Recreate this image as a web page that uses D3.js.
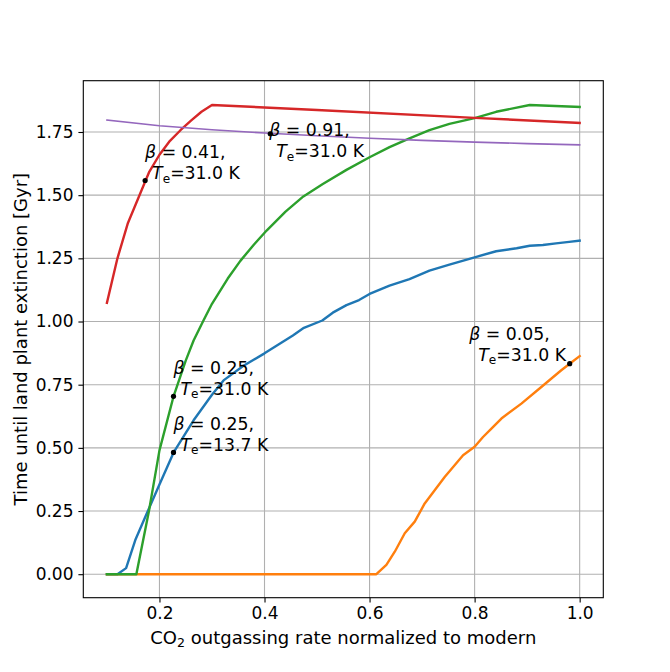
<!DOCTYPE html>
<html>
<head>
<meta charset="utf-8">
<script src="https://cdn.jsdelivr.net/npm/d3@7/dist/d3.min.js"></script>
<style>
  html, body { margin: 0; padding: 0; background: #fff; }
  svg { display: block; font-family: "DejaVu Sans", sans-serif; }
</style>
</head>
<body>
<svg id="chart" width="670" height="672"></svg>
<script>
// ---- data ----
const blueX = [0.10, 0.12, 0.1365, 0.154, 0.176, 0.20, 0.227, 0.265, 0.30, 0.322, 0.36, 0.40, 0.454, 0.475, 0.51, 0.53, 0.556, 0.58, 0.60, 0.638, 0.676, 0.714, 0.752, 0.80, 0.841, 0.88, 0.905, 0.93, 0.955, 0.98, 1.0];
const blueY = [0.0, 0.0, 0.024, 0.135, 0.241, 0.355, 0.482, 0.609, 0.71, 0.767, 0.825, 0.874, 0.945, 0.975, 1.004, 1.035, 1.065, 1.085, 1.109, 1.142, 1.168, 1.201, 1.225, 1.254, 1.278, 1.29, 1.30, 1.303, 1.309, 1.315, 1.32];

const orangeX = [0.10, 0.613, 0.632, 0.648, 0.667, 0.686, 0.705, 0.743, 0.778, 0.80, 0.816, 0.832, 0.851, 0.889, 0.927, 0.965, 0.981, 1.0];
const orangeY = [0.0, 0.0, 0.037, 0.089, 0.162, 0.208, 0.28, 0.385, 0.471, 0.504, 0.543, 0.576, 0.616, 0.675, 0.741, 0.807, 0.833, 0.863];

const greenX = [0.10, 0.156, 0.18, 0.20, 0.227, 0.25, 0.265, 0.284, 0.30, 0.33, 0.354, 0.38, 0.404, 0.44, 0.474, 0.511, 0.556, 0.60, 0.638, 0.676, 0.714, 0.752, 0.80, 0.841, 0.905, 1.0];
const greenY = [0.0, 0.0, 0.25, 0.49, 0.705, 0.845, 0.925, 1.005, 1.07, 1.17, 1.24, 1.305, 1.36, 1.435, 1.495, 1.544, 1.60, 1.65, 1.69, 1.725, 1.757, 1.782, 1.805, 1.83, 1.857, 1.849];

const redX = [0.10, 0.12, 0.14, 0.16, 0.18, 0.20, 0.22, 0.24, 0.26, 0.28, 0.30, 0.50, 0.80, 1.0];
const redY = [1.074, 1.25, 1.39, 1.49, 1.59, 1.66, 1.715, 1.757, 1.795, 1.83, 1.857, 1.837, 1.806, 1.786];

const purpleX = [0.10, 0.20, 0.30, 0.40, 0.50, 0.60, 0.70, 0.80, 0.90, 1.0];
const purpleY = [1.797, 1.775, 1.759, 1.746, 1.735, 1.725, 1.717, 1.710, 1.704, 1.699];

const seriesColors = ["#1f77b4", "#ff7f0e", "#2ca02c", "#d62728", "#9467bd"];
const seriesWidths = [2.4, 2.4, 2.4, 2.4, 1.6];

// annotated points
const annX = [0.1727, 0.411, 0.2267, 0.2267, 0.981];
const annY = [1.558, 1.743, 0.704, 0.482, 0.833];
const annBeta = ["0.41", "0.91", "0.25", "0.25", "0.05"];
const annTe = ["31.0", "31.0", "31.0", "13.7", "31.0"];
const annPlace = ["above", "below", "above", "above", "left"];

const xTicks = [0.2, 0.4, 0.6, 0.8, 1.0];
const yTicks = [0.00, 0.25, 0.50, 0.75, 1.00, 1.25, 1.50, 1.75];

// ---- layout ----
const L = 83.3, T = 80.7, R = 603.3, B = 597.7;
const FS_TICK = 17, FS_LABEL = 18, FS_ANN = 17.3;
const LINE_GAP = 21;

const svg = d3.select("#chart");
const x = d3.scaleLinear().domain([0.055, 1.045]).range([L, R]);
const y = d3.scaleLinear().domain([-0.093, 1.953]).range([B, T]);

// grid
const grid = svg.append("g");
grid.selectAll("line.gx").data(xTicks).enter().append("line")
  .attr("x1", d => x(d)).attr("x2", d => x(d)).attr("y1", T).attr("y2", B)
  .attr("stroke", "#b0b0b0").attr("stroke-width", 1.1);
grid.selectAll("line.gy").data(yTicks).enter().append("line")
  .attr("y1", d => y(d)).attr("y2", d => y(d)).attr("x1", L).attr("x2", R)
  .attr("stroke", "#b0b0b0").attr("stroke-width", 1.1);

// axes
const xAxis = d3.axisBottom(x).tickValues(xTicks).tickFormat(d3.format(".1f")).tickSize(4.9).tickPadding(4.6);
const yAxis = d3.axisLeft(y).tickValues(yTicks).tickFormat(d3.format(".2f")).tickSize(4.9).tickPadding(4.9);
const gx = svg.append("g").attr("transform", `translate(0,${B})`).call(xAxis);
const gy = svg.append("g").attr("transform", `translate(${L},0)`).call(yAxis);
[gx, gy].forEach(g => {
  g.select(".domain").remove();
  g.selectAll(".tick line").attr("stroke", "#000").attr("stroke-width", 1.1);
  g.selectAll(".tick text").attr("font-size", FS_TICK).attr("fill", "#000").attr("font-family", "DejaVu Sans");
});

// clip
svg.append("clipPath").attr("id", "clip").append("rect")
  .attr("x", L).attr("y", T).attr("width", R - L).attr("height", B - T);

// series
const seriesX = [blueX, orangeX, greenX, redX, purpleX];
const seriesY = [blueY, orangeY, greenY, redY, purpleY];
const line = d3.line().x(d => x(d[0])).y(d => y(d[1]));
const plot = svg.append("g").attr("clip-path", "url(#clip)");
seriesX.forEach((xs, i) => {
  const pts = xs.map((v, j) => [v, seriesY[i][j]]);
  plot.append("path").datum(pts).attr("d", line)
    .attr("fill", "none").attr("stroke", seriesColors[i])
    .attr("stroke-width", seriesWidths[i])
    .attr("stroke-linejoin", "round").attr("stroke-linecap", "square");
});

// frame
svg.append("rect").attr("x", L).attr("y", T).attr("width", R - L).attr("height", B - T)
  .attr("fill", "none").attr("stroke", "#000").attr("stroke-width", 1.1);

// annotations
annX.forEach((ax, i) => {
  const px = x(ax), py = y(annY[i]);
  svg.append("circle").attr("cx", px).attr("cy", py).attr("r", 2.6).attr("fill", "#000");
  const g = svg.append("g");
  const t1 = g.append("text").attr("x", 0).attr("y", -LINE_GAP).attr("font-size", FS_ANN).attr("fill", "#000");
  t1.append("tspan").attr("font-style", "italic").text("β");
  t1.append("tspan").text(" = " + annBeta[i] + ",");
  const t2 = g.append("text").attr("x", annPlace[i] === "left" ? 9 : 7).attr("y", 0).attr("font-size", FS_ANN).attr("fill", "#000");
  t2.append("tspan").attr("font-style", "italic").text("T");
  t2.append("tspan").attr("font-size", FS_ANN * 0.7).attr("dy", 3.5).text("e");
  t2.append("tspan").attr("dy", -3.5).text("=" + annTe[i] + " K");
  if (annPlace[i] === "above") {
    g.attr("transform", `translate(${px},${py - 1.5})`);
  } else if (annPlace[i] === "below") {
    g.attr("transform", `translate(${px - 1},${py + 2.5 + LINE_GAP})`);
  } else {
    const bb = g.node().getBBox();
    g.attr("transform", `translate(${px - 3 - (bb.x + bb.width)},${py - 3})`);
  }
});

// axis labels
const xl = svg.append("text").attr("x", (L + R) / 2).attr("y", 644)
  .attr("text-anchor", "middle").attr("font-size", FS_LABEL).attr("fill", "#000");
xl.append("tspan").text("CO");
xl.append("tspan").attr("font-size", FS_LABEL * 0.7).attr("dy", 3).text("2");
xl.append("tspan").attr("dy", -3).text(" outgassing rate normalized to modern");

svg.append("text")
  .attr("transform", `translate(27,${(T + B) / 2}) rotate(-90)`)
  .attr("text-anchor", "middle").attr("font-size", FS_LABEL).attr("fill", "#000")
  .text("Time until land plant extinction [Gyr]");
</script>
</body>
</html>
